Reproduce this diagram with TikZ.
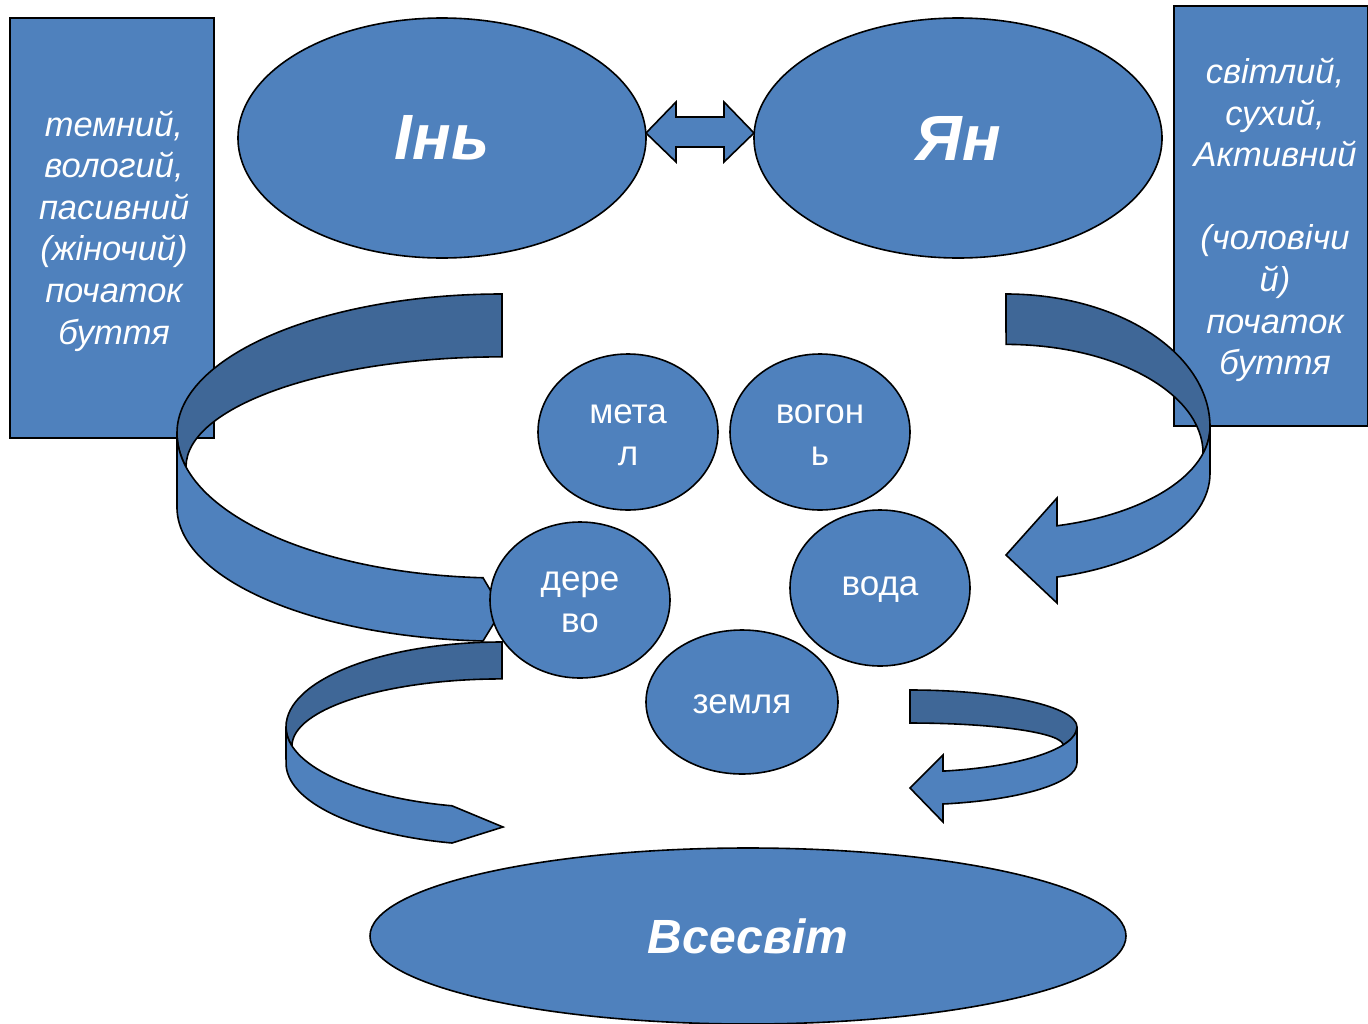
\documentclass[tikz,border=0pt]{standalone}
\usepackage{fontspec}
\setmainfont{Liberation Sans}
\usetikzlibrary{shapes.geometric}
\definecolor{bluelight}{RGB}{79,129,189}
\definecolor{bluedark}{RGB}{63,103,151}
\tikzset{
  light/.style={fill=bluelight, draw=black, line width=1.6pt, line join=miter},
  dark/.style={fill=bluedark, draw=black, line width=1.6pt, line join=miter},
  oval/.style={ellipse, light, inner sep=0pt, text=white, align=center},
  infobox/.style={rectangle, light, inner sep=0pt},
  infotext/.style={text=white, align=center, inner sep=0pt,
    font=\itshape\fontsize{34.5}{41.6}\selectfont},
  elem/.style={oval, minimum width=180pt, minimum height=156pt},
  elemtext/.style={text=white, align=center, inner sep=0pt,
    font=\fontsize{35}{42}\selectfont},
}
\begin{document}
\begin{tikzpicture}[x=1pt,y=-1pt]
\useasboundingbox (0,0) rectangle (1368,1023);

% info boxes
\node[infobox, minimum width=204pt, minimum height=420pt] (left) at (112,228) {};
\node[infotext] (lefttext) at ([xshift=2pt,yshift=-3pt]left.center)
  {темний,\\вологий,\\пасивний\\(жіночий)\\початок\\буття};
\node[infobox, minimum width=194pt, minimum height=420pt] (right) at (1271,216) {};
\node[infotext] (righttext) at ([xshift=4pt,yshift=-4pt]right.center)
  {світлий,\\сухий,\\Активний\\\mbox{}\\(чоловічи\\й)\\початок\\буття};

% Yin and Yang
\node[oval, minimum width=408pt, minimum height=240pt,
  font=\bfseries\itshape\fontsize{64}{70}\selectfont] (yin) at (442,138) {Інь};
\node[oval, minimum width=408pt, minimum height=240pt,
  font=\bfseries\itshape\fontsize{64}{70}\selectfont] (yan) at (958,138) {Ян};

% double arrow
\draw[light] (646,133) -- (676,102) -- (676,117) -- (724,117) -- (724,102)
  -- (754,133) -- (724,162) -- (724,147) -- (676,147) -- (676,162) -- cycle;

% big left curved arrow
\draw[dark] (502,294) arc[start angle=90, end angle=180, x radius=325pt, y radius=139pt]
  arc[start angle=180, end angle=193.5, x radius=325pt, y radius=145pt]
  arc[start angle=180, end angle=90, x radius=316pt, y radius=110pt] -- cycle;
\draw[light] (177,433) arc[start angle=180, end angle=266.65, x radius=325pt, y radius=145pt]
  -- (502,610) -- (483,641)
  arc[start angle=266.65, end angle=180, x radius=325pt, y radius=134pt] -- cycle;

% big right curved arrow
\draw[dark] (1006,294) arc[start angle=90, end angle=0, x radius=204pt, y radius=133pt]
  arc[start angle=0, end angle=-15, x radius=204pt, y radius=102pt]
  arc[start angle=0, end angle=90, x radius=197pt, y radius=109pt] -- cycle;
\draw[light] (1210,427) arc[start angle=0, end angle=-75.52, x radius=204pt, y radius=102pt]
  -- (1057,498) -- (1006,555) -- (1057,603) -- (1057,577)
  arc[start angle=-75.52, end angle=0, x radius=204pt, y radius=107pt] -- cycle;

% small bottom-left curved arrow
\draw[dark] (502,642) arc[start angle=90, end angle=180, x radius=216pt, y radius=85pt]
  arc[start angle=180, end angle=193.5, x radius=216pt, y radius=81pt]
  arc[start angle=180, end angle=90, x radius=210pt, y radius=67pt] -- cycle;
\draw[light] (286,727) arc[start angle=180, end angle=256.6, x radius=216pt, y radius=81pt]
  -- (503,827) -- (452,843)
  arc[start angle=256.6, end angle=180, x radius=216pt, y radius=82pt] -- cycle;

% small bottom-right curved arrow
\draw[dark] (910,690) arc[start angle=90, end angle=0, x radius=167pt, y radius=37pt]
  arc[start angle=0, end angle=-23.6, x radius=167pt, y radius=45pt]
  arc[start angle=0, end angle=90, x radius=153pt, y radius=22pt] -- cycle;
\draw[light] (1077,727) arc[start angle=0, end angle=-78.6, x radius=167pt, y radius=45pt]
  -- (943,755) -- (910,788) -- (943,822) -- (943,804)
  arc[start angle=-78.6, end angle=0, x radius=167pt, y radius=42pt] -- cycle;

% elements
\node[elem] (metal) at (628,432) {};
\node[elemtext] (metaltext) at ([yshift=-3pt]metal.center) {мета\\л};
\node[elem] (fire) at (820,432) {};
\node[elemtext] (firetext) at ([yshift=-3pt]fire.center) {вогон\\ь};
\node[elem] (wood) at (580,600) {};
\node[elemtext] (woodtext) at ([yshift=-2pt]wood.center) {дере\\во};
\node[elem] (water) at (880,588) {};
\node[elemtext] (watertext) at ([yshift=-2pt]water.center) {вода};
\node[elem, minimum width=192pt, minimum height=144pt] (earth) at (742,702) {};
\node[elemtext] (earthtext) at ([yshift=-2pt]earth.center) {земля};

% universe
\node[oval, minimum width=756pt, minimum height=176pt,
  font=\bfseries\itshape\fontsize{48}{58}\selectfont] (universe) at (748,936) {Всесвіт};
\end{tikzpicture}
\end{document}
